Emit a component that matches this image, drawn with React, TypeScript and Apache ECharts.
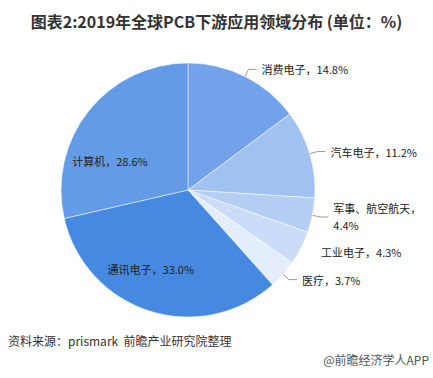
import React, { useEffect, useRef } from "react";
import * as echarts from "echarts";

const categories = ["消费电子", "汽车电子", "军事、航空航天", "工业电子", "医疗", "通讯电子", "计算机"];
const values = [14.8, 11.2, 4.4, 4.3, 3.7, 33.0, 28.6];
const colors = ["#72a3ea", "#a1c2f0", "#b5cff4", "#cadcf7", "#e4edfb", "#4689e0", "#649be6"];
const titleText = "图表2:2019年全球PCB下游应用领域分布 (单位：%)";
const sourceText = "资料来源：prismark  前瞻产业研究院整理";
const brandText = "@前瞻经济学人APP";

export default function App() {
  const ref = useRef<HTMLDivElement>(null);
  useEffect(() => {
    if (!ref.current) return;
    const chart = echarts.init(ref.current, null, { renderer: "svg" });
    const font = '"Noto Sans CJK SC", sans-serif';
    const data = categories.map((name, i) => {
      const item: any = { name, value: values[i], itemStyle: { color: colors[i] } };
      if (name === "计算机") {
        item.label = { position: "inside", offset: [-26, 12] };
      } else if (name === "通讯电子") {
        item.label = { position: "inside", offset: [-17, 16] };
      } else if (name === "军事、航空航天") {
        item.label = {
          formatter: (p: any) => `${p.name}，\n${p.value.toFixed(1)}%`,
          align: "center",
        };
      } else if (name === "工业电子") {
        item.labelLine = { show: false };
      }
      return item;
    });
    chart.setOption({
      animation: false,
      backgroundColor: "#ffffff",
      title: {
        text: titleText,
        left: "center",
        top: 8,
        textStyle: { fontFamily: font, fontSize: 16, fontWeight: "bold", color: "#333" },
      },
      graphic: [
        {
          type: "text",
          left: 8,
          top: 334,
          style: { text: sourceText, fontFamily: font, fontSize: 12, fill: "#333" },
        },
        {
          type: "text",
          right: 4,
          top: 353,
          style: { text: brandText, fontFamily: font, fontSize: 12, fill: "#555" },
        },
      ],
      series: [
        {
          type: "pie",
          center: [188, 190],
          radius: 127,
          startAngle: 90,
          clockwise: true,
          data,
          label: {
            show: true,
            formatter: (p: any) => `${p.name}，${p.value.toFixed(1)}%`,
            fontFamily: font,
            fontSize: 11,
            color: "#222",
            lineHeight: 17,
          },
          labelLine: { show: true, length: 8, length2: 8, lineStyle: { color: "#999", width: 1 } },
          itemStyle: { borderColor: "#ffffff", borderWidth: 0.5 },
          emphasis: { disabled: true },
        },
      ],
    });
    return () => chart.dispose();
  }, []);
  return (
    <div
      ref={ref}
      style={{ position: "fixed", left: 0, top: 0, width: 433, height: 378 }}
    />
  );
}
